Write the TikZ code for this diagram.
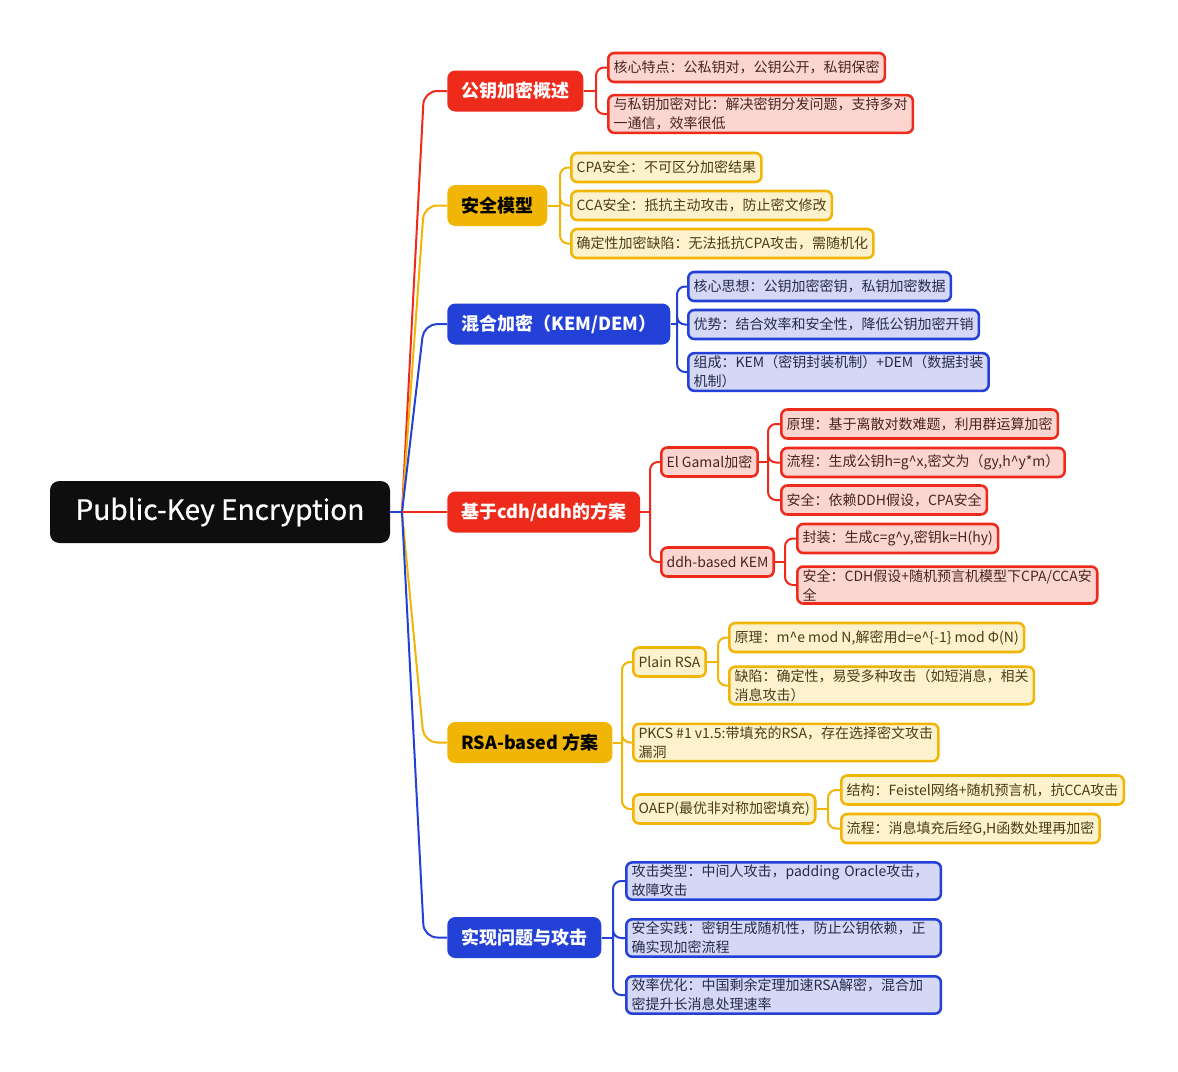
\documentclass[tikz,border=0pt]{standalone}
\usepackage{fontspec}
\setmainfont{Noto Sans CJK SC}
\newfontfamily\rootfont{Noto Sans CJK SC}[FakeBold=0.6]
\usetikzlibrary{calc}

\definecolor{rootblack}{HTML}{0E0E0E}
\definecolor{pkred}{HTML}{EE2A1B}
\definecolor{pkredlight}{HTML}{FCD5D1}
\definecolor{pkredtext}{HTML}{4A2422}
\definecolor{pkyellow}{HTML}{F0B505}
\definecolor{pkyellowlight}{HTML}{FDF2CE}
\definecolor{pkyellowtext}{HTML}{4A3C12}
\definecolor{pkblue}{HTML}{2341D7}
\definecolor{pkbluelight}{HTML}{D4D8F5}
\definecolor{pkbluetext}{HTML}{262A4A}

\begin{document}
\begin{tikzpicture}[x=0.75pt, y=-0.75pt]
\tikzstyle{root}=[rectangle, rounded corners=7pt, fill=rootblack, text=white, font=\rootfont\fontsize{21}{24}\selectfont, minimum width=255pt, minimum height=46.5pt]
\tikzstyle{branch}=[rectangle, rounded corners=6pt, font=\bfseries\fontsize{13.5}{16}\selectfont, minimum height=30.75pt, inner xsep=10.5pt, anchor=west]
\tikzstyle{leaf}=[rectangle, rounded corners=4.5pt, line width=1.9pt, font=\fontsize{10.5}{14.25}\selectfont, align=left, inner xsep=4pt, inner ysep=2pt, minimum height=21.75pt, anchor=west]
\tikzstyle{leafr}=[leaf, draw=pkred, fill=pkredlight, text=pkredtext]
\tikzstyle{leafy}=[leaf, draw=pkyellow, fill=pkyellowlight, text=pkyellowtext]
\tikzstyle{leafb}=[leaf, draw=pkblue, fill=pkbluelight, text=pkbluetext]
\tikzstyle{link}=[line width=1.5pt]
\tikzstyle{trunk}=[link, rounded corners=10pt]
\tikzstyle{twig}=[link, rounded corners=6pt]

\useasboundingbox (0,0) rectangle (1178,1071);

% root and main branches
\node[root] (root) at (220,512) {Public-Key Encryption};
\coordinate (hub) at (402,512);

\node[branch, fill=pkred, text=white] (b1) at (447,91) {公钥加密概述};
\node[branch, fill=pkyellow, text=black] (b2) at (447,205.5) {安全模型};
\node[branch, fill=pkblue, text=white] (b3) at (447,324) {混合加密（KEM/DEM）};
\node[branch, fill=pkred, text=white] (b4) at (447,512) {基于cdh/ddh的方案};
\node[branch, fill=pkyellow, text=black] (b5) at (447,742.5) {RSA-based 方案};
\node[branch, fill=pkblue, text=white] (b6) at (447,937.5) {实现问题与攻击};

\draw[trunk, pkred] (hub) -- ($(b1.west)+(-23,0)$) -- (b1.west);
\draw[trunk, pkyellow] (hub) -- ($(b2.west)+(-23,0)$) -- (b2.west);
\draw[trunk, pkblue] (hub) -- ($(b3.west)+(-23,0)$) -- (b3.west);
\draw[trunk, pkyellow] (hub) -- ($(b5.west)+(-23,0)$) -- (b5.west);
\draw[trunk, pkblue] (hub) -- ($(b6.west)+(-23,0)$) -- (b6.west);
\draw[link, pkred] (hub) -- (b4.west);
\draw[link, pkblue] (root.east) -- (hub);

% 公钥加密概述
\node[leafr] (l11) at (607,67.5) {核心特点：公私钥对，公钥公开，私钥保密};
\node[leafr] (l12) at (607,114) {与私钥加密对比：解决密钥分发问题，支持多对\\一通信，效率很低};
\coordinate (j1) at (596,91);
\draw[link, pkred] (b1.east) -- (j1);
\foreach \l in {l11,l12} \draw[twig, pkred] (j1) |- (\l.west);

% 安全模型
\node[leafy] (l21) at (570,167.5) {CPA安全：不可区分加密结果};
\node[leafy] (l22) at (570,205.5) {CCA安全：抵抗主动攻击，防止密文修改};
\node[leafy] (l23) at (570,243.5) {确定性加密缺陷：无法抵抗CPA攻击，需随机化};
\coordinate (j2) at (560,205.5);
\draw[link, pkyellow] (b2.east) -- (j2);
\foreach \l in {l21,l22,l23} \draw[twig, pkyellow] (j2) |- (\l.west);

% 混合加密
\node[leafb] (l31) at (687,286.5) {核心思想：公钥加密密钥，私钥加密数据};
\node[leafb] (l32) at (687,324.5) {优势：结合效率和安全性，降低公钥加密开销};
\node[leafb] (l33) at (687,372) {组成：KEM（密钥封装机制）+DEM（数据封装\\机制）};
\coordinate (j3) at (677,324);
\draw[link, pkblue] (b3.east) -- (j3);
\foreach \l in {l31,l32,l33} \draw[twig, pkblue] (j3) |- (\l.west);

% 基于cdh/ddh的方案
\node[leafr] (s41) at (660,462) {El Gamal加密};
\node[leafr] (s42) at (660,562) {ddh-based KEM};
\coordinate (j4) at (650,512);
\draw[link, pkred] (b4.east) -- (j4);
\foreach \l in {s41,s42} \draw[twig, pkred] (j4) |- (\l.west);

\node[leafr] (l411) at (780,424) {原理：基于离散对数难题，利用群运算加密};
\node[leafr] (l412) at (780,462.5) {流程：生成公钥h=g\textasciicircum x,密文为（gy,h\textasciicircum y*m）};
\node[leafr] (l413) at (780,500) {安全：依赖DDH假设，CPA安全};
\coordinate (j41) at (768,462);
\draw[link, pkred] (s41.east) -- (j41);
\foreach \l in {l411,l412,l413} \draw[twig, pkred] (j41) |- (\l.west);

\node[leafr] (l421) at (796,538.5) {封装：生成c=g\textasciicircum y,密钥k=H(hy)};
\node[leafr] (l422) at (796,585) {安全：CDH假设+随机预言机模型下CPA/CCA安\\全};
\coordinate (j42) at (785,562);
\draw[link, pkred] (s42.east) -- (j42);
\foreach \l in {l421,l422} \draw[twig, pkred] (j42) |- (\l.west);

% RSA-based 方案
\node[leafy] (s51) at (632,662) {Plain RSA};
\node[leafy] (s52) at (632,742.5) {PKCS \#1 v1.5:带填充的RSA，存在选择密文攻击\\漏洞};
\node[leafy] (s53) at (632,809) {OAEP(最优非对称加密填充)};
\coordinate (j5) at (622,742.5);
\draw[link, pkyellow] (b5.east) -- (j5);
\foreach \l in {s51,s52,s53} \draw[twig, pkyellow] (j5) |- (\l.west);

\node[leafy] (l511) at (728,637.5) {原理：m\textasciicircum e mod N,解密用d=e\textasciicircum\{-1\} mod Φ(N)};
\node[leafy] (l512) at (728,685.5) {缺陷：确定性，易受多种攻击（如短消息，相关\\消息攻击）};
\coordinate (j51) at (718,662);
\draw[link, pkyellow] (s51.east) -- (j51);
\foreach \l in {l511,l512} \draw[twig, pkyellow] (j51) |- (\l.west);

\node[leafy] (l531) at (840,790) {结构：Feistel网络+随机预言机，抗CCA攻击};
\node[leafy] (l532) at (840,828.5) {流程：消息填充后经G,H函数处理再加密};
\coordinate (j53) at (828,809);
\draw[link, pkyellow] (s53.east) -- (j53);
\foreach \l in {l531,l532} \draw[twig, pkyellow] (j53) |- (\l.west);

% 实现问题与攻击
\node[leafb, text width=228pt] (l61) at (625,881) {\mbox{攻击类型：中间人攻击，padding Oracle攻击，}\\故障攻击};
\node[leafb, text width=228pt] (l62) at (625,938) {安全实践：密钥生成随机性，防止公钥依赖，正\\确实现加密流程};
\node[leafb, text width=228pt] (l63) at (625,995) {效率优化：中国剩余定理加速RSA解密，混合加\\密提升长消息处理速率};
\coordinate (j6) at (613,937.5);
\draw[link, pkblue] (b6.east) -- (j6);
\foreach \l in {l61,l62,l63} \draw[twig, pkblue] (j6) |- (\l.west);

\end{tikzpicture}
\end{document}
